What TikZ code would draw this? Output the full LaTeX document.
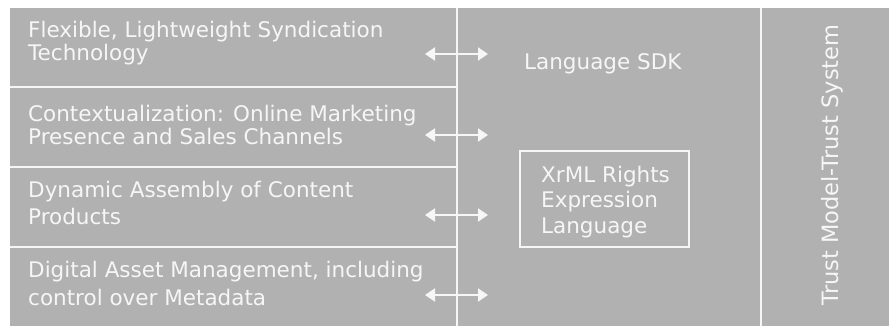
\documentclass[tikz,border=0pt]{standalone}
\usepackage{fontspec}
\setmainfont{DejaVu Sans}
\usetikzlibrary{arrows.meta}
\definecolor{bggray}{RGB}{177,177,177}
\definecolor{fg}{RGB}{246,246,246}
\tikzset{
  lbl/.style={inner sep=0pt, anchor=base west, align=left, text=fg,
    font=\fontsize{21.5}{25}\selectfont},
  sepline/.style={draw=fg, line width=2pt},
  dblarrow/.style={draw=fg, line width=2pt, {Triangle[length=10pt,width=13pt]}-{Triangle[length=10pt,width=13pt]}},
}
\begin{document}
\begin{tikzpicture}[x=1pt,y=-1pt]
\useasboundingbox (0,0) rectangle (889,326);
\fill[bggray] (10,8) rectangle (889,326);
% separators
\draw[sepline] (10,87) -- (457,87);
\draw[sepline] (10,167) -- (457,167);
\draw[sepline] (10,247) -- (457,247);
\draw[sepline] (457,8) -- (457,326);
\draw[sepline] (761,8) -- (761,326);
% left texts (anchored at the baseline of the last line)
\node[lbl, font=\fontsize{21.5}{23.5}\selectfont] (t1) at (28,61) {Flexible, Lightweight Syndication\\Technology};
\node[lbl, font=\fontsize{21.5}{23.5}\selectfont] (t2) at (28,145) {Contextualization: Online Marketing\\Presence and Sales Channels};
\node[lbl, font=\fontsize{21.5}{27}\selectfont] (t3) at (28,224) {Dynamic Assembly of Content\\Products};
\node[lbl, font=\fontsize{21.5}{28}\selectfont] (t4) at (28,305) {Digital Asset Management, including\\control over Metadata};
% middle
\node[lbl] (sdk) at (524,70) {Language SDK};
\node[draw=fg, line width=1.5pt, minimum width=169pt, minimum height=96pt, inner sep=0pt] (xrml) at (604.5,199) {};
\node[lbl, font=\fontsize{21.5}{25.5}\selectfont] (xrmltxt) at (541,233) {XrML Rights\\Expression\\Language};
% right
\node[inner sep=0pt, text=fg, rotate=90, font=\fontsize{22.5}{25}\selectfont] (trust) at (832,165) {Trust Model-Trust System};
% arrows
\foreach \i/\y in {1/54,2/135,3/215,4/295}{
  \coordinate (al\i) at (425,\y);
  \coordinate (ar\i) at (488,\y);
  \draw[dblarrow] (al\i) -- (ar\i);
}
\end{tikzpicture}
\end{document}
